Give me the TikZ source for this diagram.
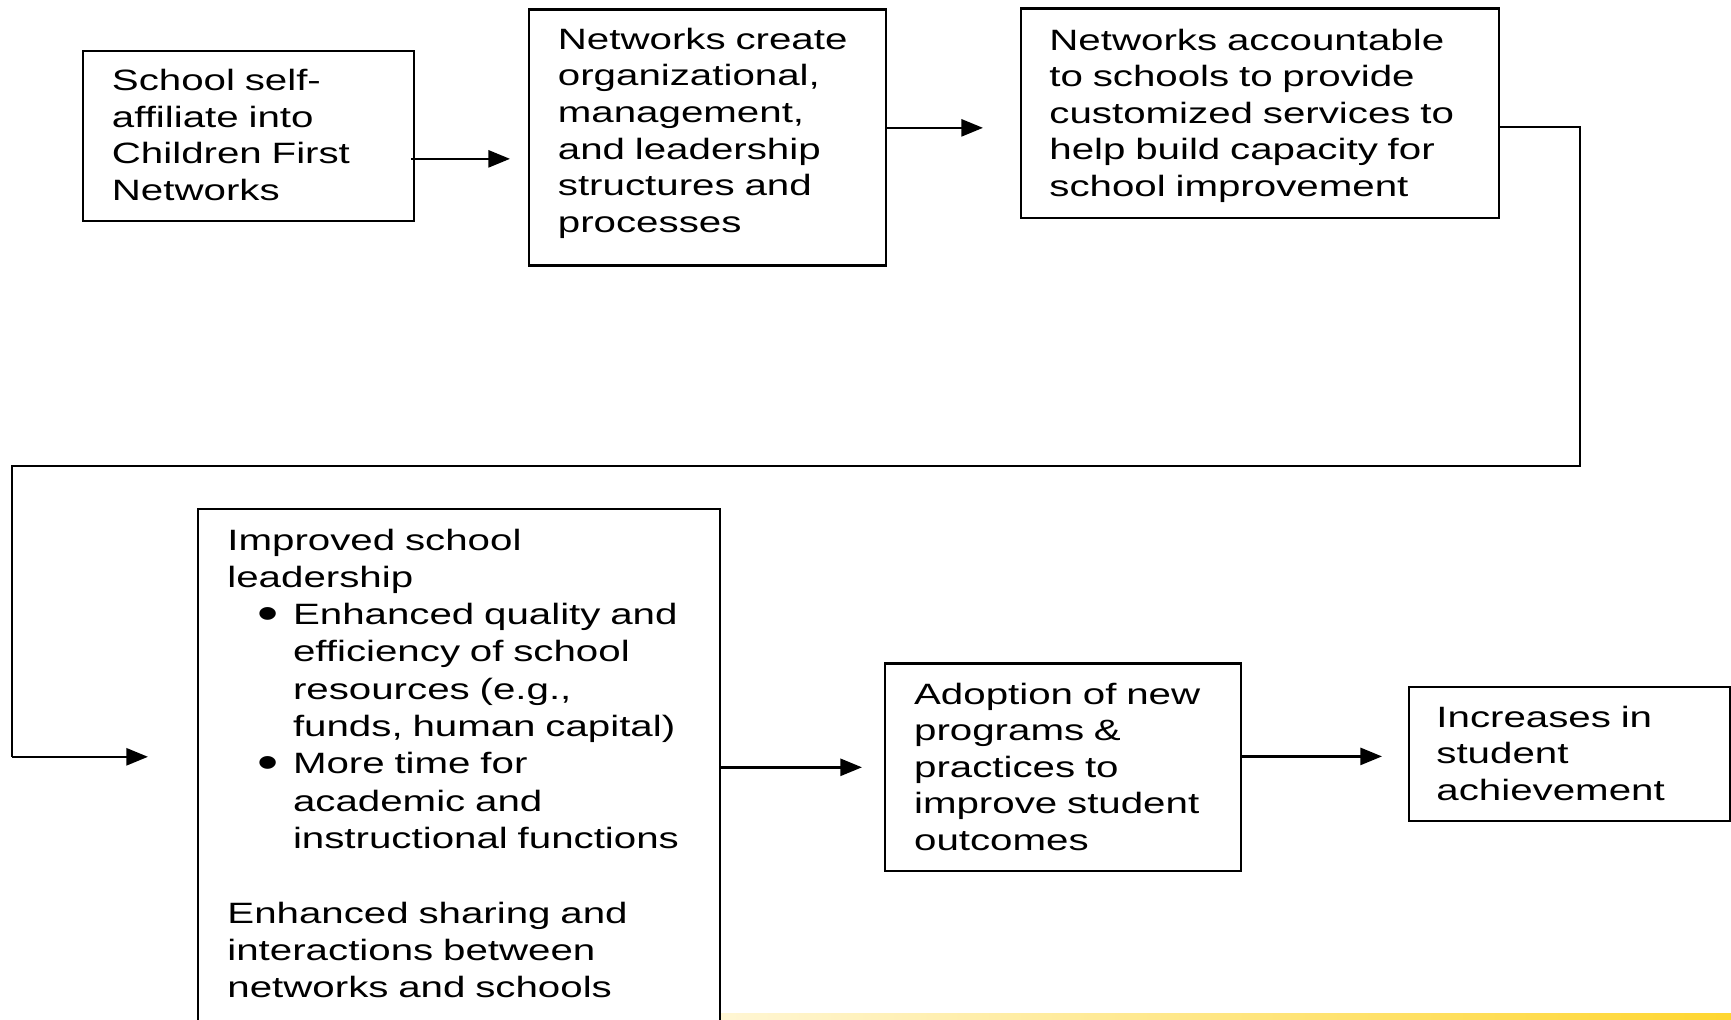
\documentclass[tikz,border=0pt]{standalone}
\usepackage{fontspec}
\usepackage{graphicx}
\setmainfont{Liberation Sans}[FakeStretch=1.37]
\usetikzlibrary{arrows.meta,calc}

\definecolor{bandpale}{RGB}{255,246,212}
\definecolor{bandgold}{RGB}{255,214,48}

\tikzset{
  box/.style={draw, line width=1.15pt, inner sep=0pt, anchor=north west},
  txt/.style={anchor=base west, inner sep=0pt, align=left, text width=300pt,
              font=\fontsize{14.7pt}{18.3pt}\selectfont},
  arr/.style={line width=1.3pt, -{Triangle[length=10.8pt,width=8.5pt]}},
  conn/.style={line width=1pt},
}

% list bullet and hanging indent used in the leadership box
\newcommand{\bulletitem}{\hspace*{15pt}\makebox[0pt][l]{\raisebox{-2.4pt}{\scalebox{1.5}[1.6]{\textbullet}}}\hspace*{17.8pt}}
\newcommand{\itemcont}{\hspace*{32.8pt}}

\begin{document}
\begin{tikzpicture}[x=0.5pt,y=-0.5pt]
  \useasboundingbox (0,0) rectangle (1731,1019);
  \fill[white] (0,0) rectangle (1731,1019);

  % thin yellow rule along the bottom edge
  \shade[left color=bandpale, right color=bandgold] (720,1013.5) rectangle (1731,1019);

  % boxes
  \node[box, minimum width=165.5pt, minimum height=85pt]   (b1) at (82,50) {};
  \node[box, minimum width=178.5pt, minimum height=128pt]  (b2) at (528,8.3) {};
  \node[box, minimum width=239pt,   minimum height=104.7pt] (b3) at (1020,7.3) {};
  \node[box, minimum width=261pt,   minimum height=268.5pt] (b4) at (197,508) {};
  \node[box, minimum width=178pt,   minimum height=103.85pt] (b5) at (884,662.3) {};
  \node[box, minimum width=160.75pt, minimum height=67.15pt] (b6) at (1407.5,685.7) {};

  % box texts
  \node[txt] (t1) at (111.5,90.5) {School self-\\affiliate into\\Children First\\Networks};
  \node[txt] (t2) at (557.5,49.3) {Networks create\\organizational,\\management,\\and leadership\\structures and\\processes};
  \node[txt] (t3) at (1049,50) {Networks accountable\\to schools to provide\\customized services to\\help build capacity for\\school improvement};
  \node[txt, font=\fontsize{14.7pt}{18.65pt}\selectfont] (t4) at (227,550) {Improved school\\leadership\\
    \bulletitem Enhanced quality and\\
    \itemcont efficiency of school\\
    \itemcont resources (e.g.,\\
    \itemcont funds, human capital)\\
    \bulletitem More time for\\
    \itemcont academic and\\
    \itemcont instructional functions\\[18.65pt]
    Enhanced sharing and\\interactions between\\networks and schools};
  \node[txt] (t5) at (913.7,704) {Adoption of new\\programs \&\\practices to\\improve student\\outcomes};
  \node[txt] (t6) at (1436,727.3) {Increases in\\student\\achievement};

  % connectors
  \draw[arr] ($(b1.east)+(-4,22.7)$) -- ($(b1.east -| b2.west)+(-18,22.7)$);
  \draw[arr] ($(b2.east)+(0,-9.6)$) -- ($(b2.east -| b3.west)+(-37,-9.6)$);

  \coordinate (turn) at (12,756.8);
  \draw[conn] ($(b3.east)+(0,14)$) -| ($(b3.east)+(79.5,352.5)$) -| (turn);
  \draw[arr] (turn) -- ($(turn -| b4.west)+(-49,0)$);

  \draw[arr] (b5.west -| b4.east) -- ($(b5.west)+(-22,0)$);
  \draw[arr] ($(b6.west -| b5.east)+(-2,2.4)$) -- ($(b6.west)+(-25.5,2.4)$);
\end{tikzpicture}
\end{document}
